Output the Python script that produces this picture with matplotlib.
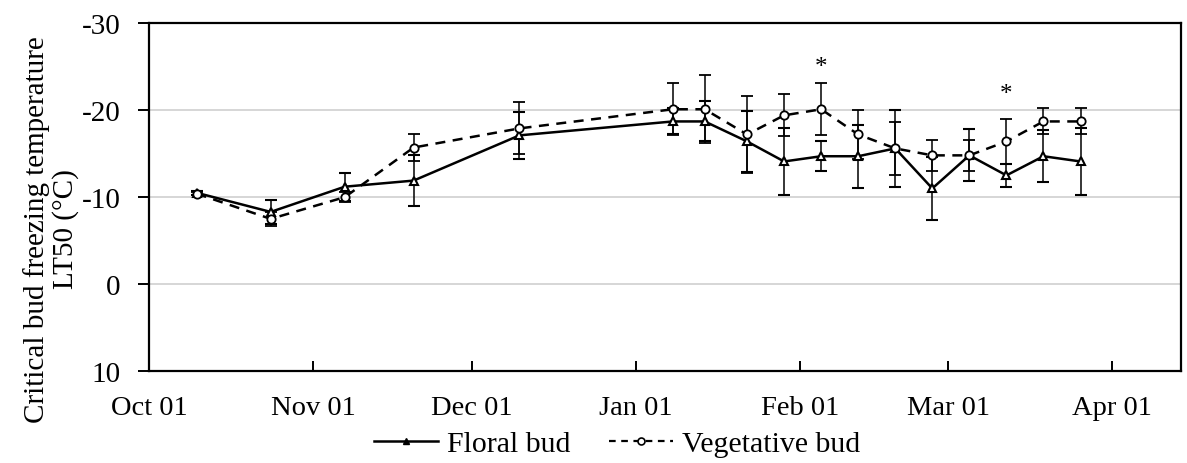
import numpy as np
import pandas as pd
import matplotlib
matplotlib.use("Agg")
import matplotlib.pyplot as plt
import matplotlib.dates as mdates
from matplotlib.lines import Line2D

plt.rcParams['font.family'] = ['Liberation Serif', 'DejaVu Serif']
plt.rcParams['axes.unicode_minus'] = False

# sampling dates and LT50 values
dates = ["2018-10-10", "2018-10-24", "2018-11-07", "2018-11-20", "2018-12-10",
         "2019-01-08", "2019-01-14", "2019-01-22", "2019-01-29", "2019-02-05",
         "2019-02-12", "2019-02-19", "2019-02-26", "2019-03-05", "2019-03-12",
         "2019-03-19", "2019-03-26"]
floral = [-10.5, -8.3, -11.2, -11.9, -17.1, -18.7, -18.7, -16.4, -14.1, -14.7,
          -14.7, -15.6, -11.0, -14.8, -12.5, -14.7, -14.1]
floral_err = [0.2, 1.4, 1.6, 2.9, 2.7, 1.5, 2.3, 3.5, 3.8, 1.7,
              3.6, 4.4, 3.6, 3.0, 1.3, 3.0, 3.8]
vegetative = [-10.4, -7.5, -10.0, -15.7, -17.9, -20.1, -20.1, -17.2, -19.4, -20.1,
              -17.2, -15.6, -14.8, -14.8, -16.4, -18.7, -18.7]
veg_err = [0.2, 0.8, 0.6, 1.5, 3.0, 3.0, 3.9, 4.4, 2.4, 3.0,
           2.8, 3.0, 1.8, 1.8, 2.6, 1.5, 1.5]
star_dates = ["2019-02-05", "2019-03-12"]
star_y = [-24.9, -21.8]

x = pd.to_datetime(dates)

fig = plt.figure(figsize=(11.87, 4.64), dpi=100)
ax = fig.add_axes([0.1255, 0.198, 0.8695, 0.75])

ax.errorbar(x, floral, yerr=floral_err, color='black', lw=1.8, marker='^',
            ms=6, mfc='white', mec='black', mew=1.5, capsize=4, elinewidth=1.1,
            capthick=1.1)
ax.errorbar(x, vegetative, yerr=veg_err, color='black', lw=1.8, ls=(0, (4, 3)),
            marker='o', ms=6, mfc='white', mec='black', mew=1.3, capsize=4,
            elinewidth=1.1, capthick=1.1)

for d, y in zip(star_dates, star_y):
    ax.text(pd.Timestamp(d), y, '*', ha='center', va='center', fontsize=18)

ax.set_ylim(10, -30)
ax.set_yticks([-30, -20, -10, 0, 10])
ax.set_xlim(pd.Timestamp("2018-10-01"), pd.Timestamp("2019-04-14"))
ax.xaxis.set_major_locator(mdates.MonthLocator())
ax.xaxis.set_major_formatter(mdates.DateFormatter('%b %d'))

for y in [-20, -10, 0]:
    ax.axhline(y, color='#cccccc', lw=1.1, zorder=0)

for s in ax.spines.values():
    s.set_linewidth(1.6)
ax.tick_params(axis='x', direction='in', length=7, width=1.4, labelsize=20.5, pad=17)
ax.tick_params(axis='y', direction='out', length=8, width=1.4, labelsize=21, pad=12.5)

ax.set_ylabel('Critical bud freezing temperature\nLT50 (°C)', fontsize=21,
              linespacing=1.1)
ax.yaxis.set_label_coords(-0.068, 0.41)

handles = [
    Line2D([], [], color='black', lw=1.8, marker='^', ms=5, mfc='black', mec='black'),
    Line2D([], [], color='black', lw=1.6, ls=(0, (3, 2.5)), marker='o', ms=5,
           mfc='white', mec='black', mew=1.2),
]
fig.legend(handles, ['Floral bud', 'Vegetative bud'], loc='center',
           bbox_to_anchor=(0.52, 0.041), ncol=2, frameon=False, fontsize=21.5,
           handlelength=2.15, columnspacing=1.3, handletextpad=0.3)

fig.savefig('out.png', dpi=100)
